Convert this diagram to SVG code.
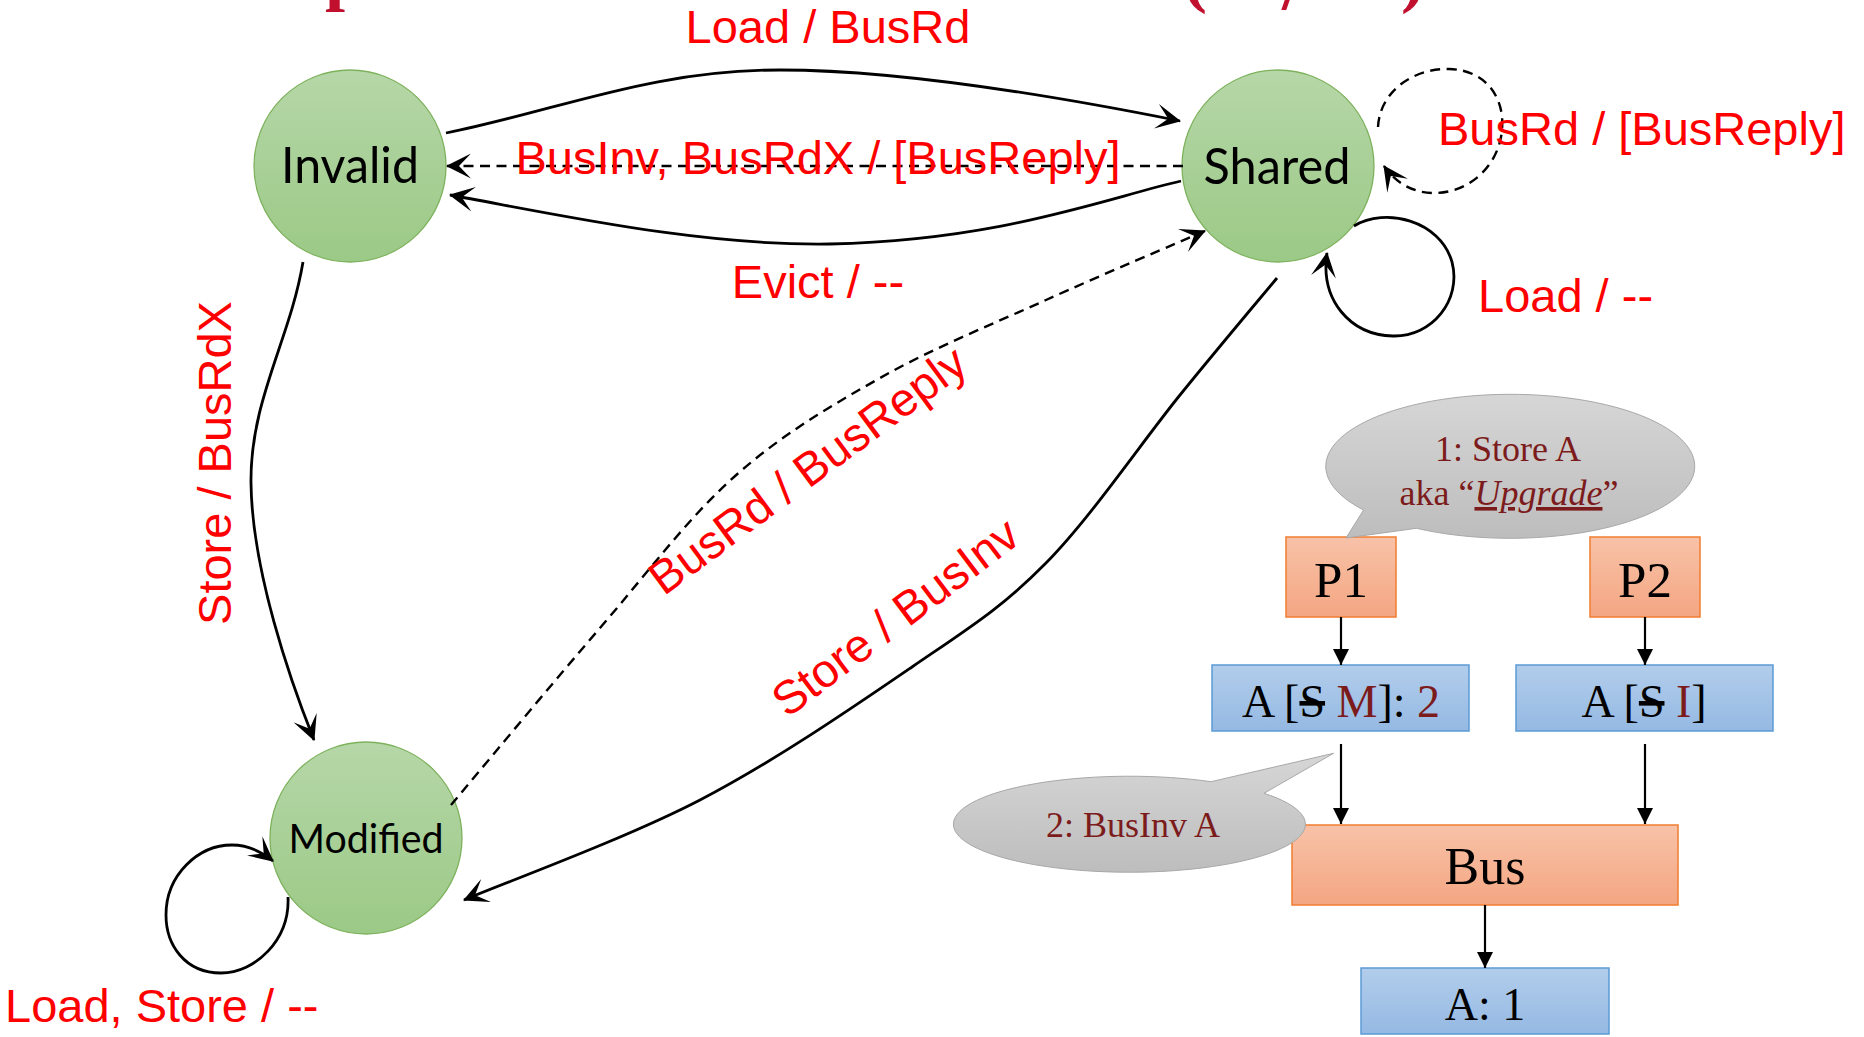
<svg xmlns="http://www.w3.org/2000/svg" width="1864" height="1037" viewBox="0 0 1864 1037">
  <defs>
    <linearGradient id="gGreen" x1="0" y1="0" x2="0" y2="1">
      <stop offset="0" stop-color="#B6D7A8"/>
      <stop offset="1" stop-color="#9BC986"/>
    </linearGradient>
    <linearGradient id="gOrange" x1="0" y1="0" x2="0" y2="1">
      <stop offset="0" stop-color="#F8C2A8"/>
      <stop offset="1" stop-color="#F4A682"/>
    </linearGradient>
    <linearGradient id="gBlue" x1="0" y1="0" x2="0" y2="1">
      <stop offset="0" stop-color="#B2CDEB"/>
      <stop offset="1" stop-color="#95B9E3"/>
    </linearGradient>
    <linearGradient id="gGray" x1="0" y1="0" x2="0" y2="1">
      <stop offset="0" stop-color="#D6D6D6"/>
      <stop offset="1" stop-color="#BDBDBD"/>
    </linearGradient>
    <!-- notched arrowhead for state transitions -->
    <marker id="arrowState" markerUnits="userSpaceOnUse" viewBox="0 0 25 25" markerWidth="25" markerHeight="25" refX="24" refY="12.5" orient="auto">
      <path d="M0,0 L25,12.5 L0,25 L12,12.5 Z" fill="#000"/>
    </marker>
    <!-- plain triangle for the bus block diagram -->
    <marker id="arrowBlock" markerUnits="userSpaceOnUse" viewBox="0 0 16 16" markerWidth="16" markerHeight="16" refX="16" refY="8" orient="auto">
      <path d="M0,0 L16,8 L0,16 Z" fill="#000"/>
    </marker>
    <style>
      .state { fill: url(#gGreen); stroke: #7DB25C; stroke-width: 1.3; }
      .stateText { font-family: Lato, "Open Sans", sans-serif; fill: #000; text-anchor: middle; }
      .edge { fill: none; stroke: #000; stroke-width: 2.8; }
      .dashed { stroke-width: 2.4; stroke-dasharray: 10 6.5; }
      .lbl { font-family: "Liberation Sans", Arial, sans-serif; font-size: 47px; fill: #FF0000; }
      .mid { text-anchor: middle; }
      .proc { fill: url(#gOrange); stroke: #F07E30; stroke-width: 1.5; }
      .mem { fill: url(#gBlue); stroke: #5B9BD5; stroke-width: 1.5; }
      .callout { fill: url(#gGray); stroke: #A8A8A8; stroke-width: 1; }
      .serif { font-family: "Liberation Serif", "Times New Roman", serif; fill: #000; text-anchor: middle; }
      .note { font-family: "Liberation Serif", "Times New Roman", serif; fill: #7C1B1B; text-anchor: middle; font-size: 36px; }
      .dark { fill: #7C1B1B; }
      .blk { fill: none; stroke: #000; stroke-width: 2.2; }
      .title { font-family: "Liberation Serif", "Times New Roman", serif; font-weight: bold; font-size: 72px; fill: #C0102E; }
    </style>
  </defs>

  <rect width="1864" height="1037" fill="#FFFFFF"/>

  <!-- heading running off the top edge -->
  <g id="title-fragments">
    <text class="title" x="325" y="-3">p</text>
    <text class="title" x="1183" y="-1">(</text>
    <text class="title" x="1282" y="9">/</text>
    <text class="title" x="1401" y="-1">)</text>
  </g>

  <!-- states -->
  <g id="state-invalid">
    <circle class="state" cx="350" cy="166" r="96"/>
    <text class="stateText" x="350" y="183" font-size="50" textLength="138" lengthAdjust="spacingAndGlyphs">Invalid</text>
  </g>
  <g id="state-shared">
    <circle class="state" cx="1278" cy="166" r="96"/>
    <text class="stateText" x="1277" y="184" font-size="50" textLength="147" lengthAdjust="spacingAndGlyphs">Shared</text>
  </g>
  <g id="state-modified">
    <circle class="state" cx="366" cy="838" r="96"/>
    <text class="stateText" x="366" y="853" font-size="41" textLength="155" lengthAdjust="spacingAndGlyphs">Modified</text>
  </g>

  <!-- processors, caches, bus, memory -->
  <g id="proc-p1">
    <rect class="proc" x="1286" y="537" width="110" height="80"/>
    <text class="serif" x="1341" y="597" font-size="51">P1</text>
  </g>
  <g id="proc-p2">
    <rect class="proc" x="1590" y="537" width="110" height="80"/>
    <text class="serif" x="1645" y="597" font-size="51">P2</text>
  </g>
  <g id="cache-p1">
    <rect class="mem" x="1212" y="665" width="257" height="66"/>
    <text class="serif" x="1341" y="717" font-size="46">A [<tspan style="text-decoration:line-through">S</tspan> <tspan class="dark">M</tspan>]: <tspan class="dark">2</tspan></text>
  </g>
  <g id="cache-p2">
    <rect class="mem" x="1516" y="665" width="257" height="66"/>
    <text class="serif" x="1644" y="717" font-size="46">A [<tspan style="text-decoration:line-through">S</tspan> <tspan class="dark">I</tspan>]</text>
  </g>
  <g id="bus">
    <rect class="proc" x="1292" y="825" width="386" height="80"/>
    <text class="serif" x="1485" y="884" font-size="52">Bus</text>
  </g>
  <g id="memory">
    <rect class="mem" x="1361" y="968" width="248" height="66"/>
    <text class="serif" x="1485" y="1020" font-size="46">A: 1</text>
  </g>

  <!-- speech bubbles -->
  <g id="callout-store">
    <path class="callout" d="M1363.6,510 A184.5,72 0 1 1 1416.4,528.3 L1346,538 Z"/>
    <text class="note" x="1508" y="461">1: Store A</text>
    <text class="note" x="1509" y="505">aka “<tspan font-style="italic" style="text-decoration:underline">Upgrade</tspan>”</text>
  </g>
  <g id="callout-businv">
    <path class="callout" d="M1211,781.7 L1333.6,753.3 L1264,793.3 A176,48 0 1 1 1211,781.7 Z"/>
    <text class="note" x="1133" y="837">2: BusInv A</text>
  </g>

  <!-- transitions and data paths -->
  <g id="connectors">
    <!-- Invalid to Shared on Load -->
    <path class="edge" marker-end="url(#arrowState)" d="M446,133 C560,110 650,70 780,70 C900,70 1050,95 1180,121"/>
    <!-- Shared to Invalid on BusInv or BusRdX (snooped) -->
    <path class="edge dashed" marker-end="url(#arrowState)" d="M1183,166 L447,166"/>
    <!-- Shared to Invalid on Evict -->
    <path class="edge" marker-end="url(#arrowState)" d="M1181,181 C1100,200 1000,240 830,244 C700,246 560,215 450,195"/>
    <!-- Invalid to Modified on Store -->
    <path class="edge" marker-end="url(#arrowState)" d="M303,262 C290,340 250,400 251,483 C252,570 290,680 314,740"/>
    <!-- Modified to Shared on snooped BusRd -->
    <path class="edge dashed" marker-end="url(#arrowState)" d="M451,805 C475.8,775.5 552.8,682.7 600,628 C647.2,573.3 687.3,518.7 734,477 C780.7,435.3 828,407.5 880,378 C932,348.5 991.8,324.5 1046,300 C1100.2,275.5 1178.5,242.5 1205,231"/>
    <!-- Shared to Modified on Store -->
    <path class="edge" marker-end="url(#arrowState)" d="M1277,278 C1260.8,297.5 1218.5,347.5 1180,395 C1141.5,442.5 1090.7,517.7 1046,563 C1001.3,608.3 969.7,627.5 912,667 C854.3,706.5 774.7,761.2 700,800 C625.3,838.8 503.3,883.3 464,900"/>
    <!-- Shared self loop, snooped BusRd -->
    <path class="edge dashed" marker-end="url(#arrowState)" d="M1378,127 C1380,90 1415,68 1449,69 C1488,70 1505,100 1502,130 C1499,165 1470,193 1434,193 C1412,193 1395,182 1384,166"/>
    <!-- Shared self loop on Load -->
    <path class="edge" marker-end="url(#arrowState)" d="M1354,226 C1385,207 1440,220 1452,262 C1462,300 1432,337 1393,336 C1350,335 1320,300 1327,253"/>
    <!-- Modified self loop on Load and Store -->
    <path class="edge" marker-end="url(#arrowState)" d="M288,897 C290,940 255,973 221,973 C185,973 166,945 166,915 C166,875 198,845 232,845 C248,845 262,852 273,861"/>

    <!-- block diagram arrows -->
    <path class="blk" marker-end="url(#arrowBlock)" d="M1341,617 L1341,665"/>
    <path class="blk" marker-end="url(#arrowBlock)" d="M1645,617 L1645,665"/>
    <path class="blk" marker-end="url(#arrowBlock)" d="M1341,744 L1341,824"/>
    <path class="blk" marker-end="url(#arrowBlock)" d="M1645,744 L1645,824"/>
    <path class="blk" marker-end="url(#arrowBlock)" d="M1485,905 L1485,968"/>
  </g>

  <!-- transition labels -->
  <g id="edge-labels">
    <text class="lbl mid" x="828" y="43">Load / BusRd</text>
    <text class="lbl mid" x="818" y="174">BusInv, BusRdX / [BusReply]</text>
    <text class="lbl mid" x="818" y="298">Evict / --</text>
    <text class="lbl" x="1438" y="145">BusRd / [BusReply]</text>
    <text class="lbl" x="1478" y="312">Load / --</text>
    <text class="lbl mid" transform="translate(231,463) rotate(-90)">Store / BusRdX</text>
    <text class="lbl mid" transform="translate(817,483) rotate(-36.5)">BusRd / BusReply</text>
    <text class="lbl mid" transform="translate(905,630) rotate(-37)">Store / BusInv</text>
    <text class="lbl" x="5" y="1022">Load, Store / --</text>
  </g>
</svg>
